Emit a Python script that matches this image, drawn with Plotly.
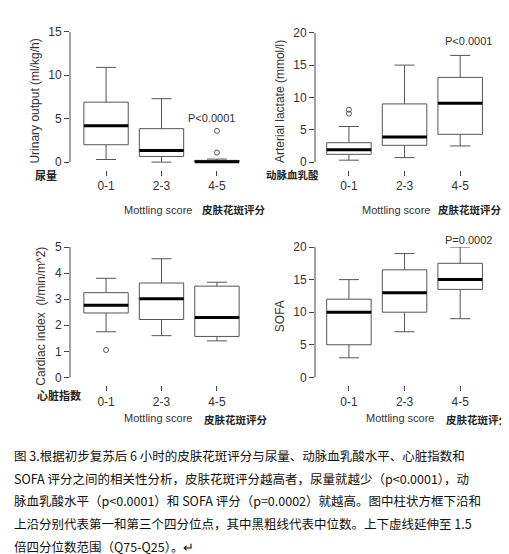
import plotly.graph_objects as go

groups = ["0-1", "2-3", "4-5"]
# [lowerfence, q1, median, q3, upperfence]
urine = [[0.3, 2.0, 4.2, 6.9, 10.9], [0.0, 0.65, 1.35, 3.85, 7.3], [0.0, 0.0, 0.05, 0.2, 0.35]]
urine_out = [[], [], [1.1, 3.6]]
lactate = [[0.3, 1.2, 1.9, 3.0, 5.5], [0.7, 2.6, 3.9, 9.0, 15.0], [2.5, 4.3, 9.1, 13.1, 16.5]]
lactate_out = [[7.5, 8.1], [], []]
cardiac = [[1.75, 2.47, 2.77, 3.25, 3.8], [1.6, 2.22, 3.02, 3.62, 4.55], [1.4, 1.57, 2.3, 3.5, 3.65]]
cardiac_out = [[1.05], [], []]
sofa = [[3, 5, 10, 12, 15], [7, 10, 13, 16.5, 19], [9, 13.5, 15, 17.5, 20]]
sofa_out = [[], [], []]

W, H = 509, 554
fig = go.Figure()
FONT = "Liberation Sans, Arial"
CJK = "Noto Sans CJK SC"

panels = [
    dict(stats=urine, out=urine_out, ymax=15, tick=5, title="Urinary output (ml/kg/h)",
         px=(62, 245), py=(149, 17), xr=(0.35, 3.65)),
    dict(stats=lactate, out=lactate_out, ymax=20, tick=5, title="Arterial lactate (mmol/l)",
         px=(307, 490), py=(149, 18), xr=(0.39, 3.68)),
    dict(stats=cardiac, out=cardiac_out, ymax=5, tick=1, title="Cardiac index  (l/min/m^2)",
         px=(62, 245), py=(367, 235), xr=(0.35, 3.65)),
    dict(stats=sofa, out=sofa_out, ymax=20, tick=5, title="SOFA",
         px=(307, 490), py=(367, 235), xr=(0.39, 3.68)),
]

layout = {}
for i, p in enumerate(panels):
    n = "" if i == 0 else str(i + 1)
    xa, ya = "x" + n, "y" + n
    pos = [1, 2, 3]
    for j, s in enumerate(p["stats"]):
        fig.add_trace(go.Box(x=[pos[j]], q1=[s[1]], median=[s[2]], q3=[s[3]],
                             lowerfence=[s[0]], upperfence=[s[4]], width=0.8, whiskerwidth=0.45,
                             fillcolor="white", line=dict(color="#555", width=1),
                             boxpoints=False, xaxis=xa, yaxis=ya, showlegend=False, hoverinfo="skip"))
        fig.add_trace(go.Scatter(x=[pos[j] - 0.4, pos[j] + 0.4], y=[s[2], s[2]], mode="lines",
                                 line=dict(color="black", width=3), xaxis=xa, yaxis=ya, showlegend=False))
        if p["out"][j]:
            fig.add_trace(go.Scatter(x=[pos[j]] * len(p["out"][j]), y=p["out"][j], mode="markers",
                                     marker=dict(symbol="circle-open", size=5, color="#555"),
                                     xaxis=xa, yaxis=ya, showlegend=False))
    ybot_px = p["py"][0] + 8
    ytop_px = p["py"][1]
    span = p["ymax"] / (p["py"][0] - p["py"][1])
    layout["xaxis" + n] = dict(domain=[p["px"][0] / W, p["px"][1] / W], range=list(p["xr"]),
                               tickvals=pos, ticktext=groups, ticks="outside", ticklen=5,
                               tickcolor="#444", showgrid=False, zeroline=False, showline=False,
                               anchor=ya, tickfont=dict(size=12, color="#333", family=FONT))
    layout["yaxis" + n] = dict(domain=[1 - ybot_px / H, 1 - ytop_px / H],
                               range=[-8 * span, p["ymax"]], tickvals=list(range(0, p["ymax"] + 1, p["tick"])),
                               ticks="outside", ticklen=5, tickcolor="#444", showgrid=False, zeroline=False,
                               showline=False, anchor=xa, tickfont=dict(size=12, color="#333", family=FONT),
                               title=dict(text=p["title"], font=dict(size=12, color="#333", family=FONT), standoff=6))
    fig.add_shape(type="line", xref=xa + " domain", yref=ya, x0=0, x1=0, y0=0, y1=p["ymax"],
                  line=dict(color="#444", width=1))

def ann(x, y, text, size=12, family=FONT, anchor="left", color="#333"):
    fig.add_annotation(x=x / W, y=1 - y / H, xref="paper", yref="paper", text=text, showarrow=False,
                       xanchor=anchor, yanchor="middle", font=dict(size=size, family=family, color=color))

ann(178, 104, "P<0.0001", 11)
ann(435, 26, "P<0.0001", 11)
ann(435, 228, "P=0.0002", 11)
ann(25, 162, "<b>尿量</b>", 11, CJK, color="#222")
ann(256, 162, "<b>动脉血乳酸</b>", 10.5, CJK, color="#222")
ann(27, 385, "<b>心脏指数</b>", 11, CJK, color="#222")
ann(186, 197, "Mottling score", 11, anchor="right")
ann(192, 197, "<b>皮肤花斑评分</b>", 10.5, CJK, color="#222")
ann(424, 197, "Mottling score", 11, anchor="right")
ann(428, 197, "<b>皮肤花斑评分</b>", 10.5, CJK, color="#222")
ann(186, 408, "Mottling score", 11, anchor="right")
ann(194, 410, "<b>皮肤花斑评分</b>", 10.5, CJK, color="#222")
ann(428, 408, "Mottling score", 11, anchor="right")
ann(436, 410, "<b>皮肤花斑评分</b>", 10.5, CJK, color="#222")

caption = [
    "图 3.根据初步复苏后 6 小时的皮肤花斑评分与尿量、动脉血乳酸水平、心脏指数和",
    "SOFA 评分之间的相关性分析，皮肤花斑评分越高者，尿量就越少（p<0.0001），动",
    "脉血乳酸水平（p<0.0001）和 SOFA 评分（p=0.0002）就越高。图中柱状方框下沿和",
    "上沿分别代表第一和第三个四分位点，其中黑粗线代表中位数。上下虚线延伸至 1.5",
    "倍四分位数范围（Q75-Q25）。↵",
]
for k, line in enumerate(caption):
    ann(4, 446 + k * 23, line, 12.5, CJK, color="#111")

layout.update(width=W, height=H, margin=dict(l=0, r=0, t=0, b=0), plot_bgcolor="white",
              paper_bgcolor="white", showlegend=False)
fig.update_layout(**layout)
fig.write_html("out.html")
